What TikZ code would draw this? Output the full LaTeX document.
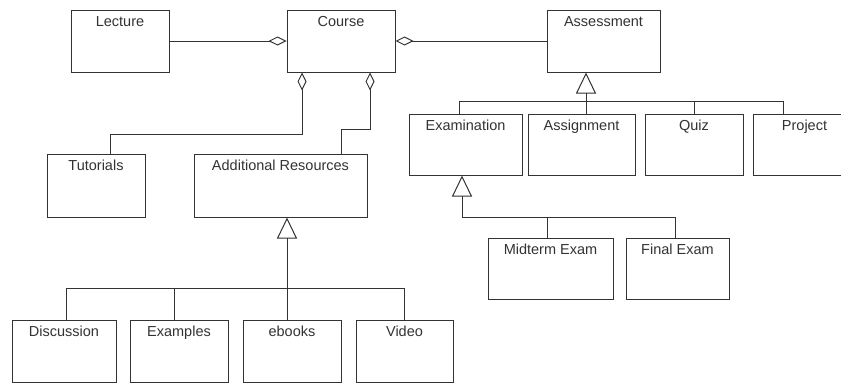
\documentclass[tikz,border=0pt]{standalone}
\usepackage{fontspec}
\setmainfont{Liberation Sans}
\usetikzlibrary{arrows.meta}
\definecolor{ink}{HTML}{333333}
\tikzset{
  umlbox/.style={draw=ink, line width=1pt, inner sep=0pt, fill=none},
  txt/.style={font=\fontsize{14.5}{17}\selectfont, text=ink, anchor=base, inner sep=0pt},
  conn/.style={draw=ink, line width=1pt},
  agg/.style={conn, {Diamond[open, length=18pt, width=9pt, line width=1pt]}-},
  gen/.style={conn, -{Triangle[open, length=21pt, width=20pt, line width=1pt]}}
}
\newcommand{\umlbox}[6]{%
  \node[umlbox, minimum width=#4pt-#2pt, minimum height=#5pt-#3pt] (#1) at ({(#2+#4)/2},{(#3+#5)/2}) {};
  \node[txt] (#1t) at ([yshift=-17pt]#1.north) {#6};
}
\begin{document}
\begin{tikzpicture}[x=1pt, y=-1pt]
\clip (0,0) rectangle (841,383);
\fill[white] (0,0) rectangle (841,383);

\umlbox{lect}{71}{10}{169}{72}{Lecture}
\umlbox{course}{287}{10}{395}{72}{Course}
\umlbox{assess}{547}{10}{660}{72}{Assessment}
\umlbox{tut}{47}{154}{145}{217}{Tutorials}
\umlbox{addres}{194}{154}{367}{217}{Additional Resources}
\umlbox{exam}{409}{114}{522}{175}{Examination}
\umlbox{assign}{528}{114}{635}{175}{Assignment}
\umlbox{quiz}{645}{114}{743}{175}{Quiz}
\umlbox{proj}{753}{114}{856}{175}{Project}
\umlbox{mid}{488}{238}{613}{299}{Midterm Exam}
\umlbox{final}{626}{238}{729}{299}{Final Exam}
\umlbox{disc}{12}{320}{116}{382}{Discussion}
\umlbox{examp}{130}{320}{228}{382}{Examples}
\umlbox{ebooks}{243}{320}{341}{382}{ebooks}
\umlbox{video}{356}{320}{453}{382}{Video}

% aggregations
\draw[agg] (course.west) -- (lect.east);
\draw[agg] (course.east) -- (assess.west);
\draw[agg] ([xshift=-39pt]course.south) |- (110,134) -- ([xshift=14pt]tut.north);
\draw[agg] ([xshift=29pt]course.south) |- (341,129) -- ([xshift=60.5pt]addres.north);

% generalization: assessment
\coordinate (busA) at (586,101);
\draw[gen] (busA) -- ([xshift=-17.5pt]assess.south);
\draw[conn] ([xshift=-6.5pt]exam.north) |- (busA);
\draw[conn] ([xshift=4.5pt]assign.north) -- (busA);
\draw[conn] (quiz.north) |- (busA);
\draw[conn] ([xshift=-21.5pt]proj.north) |- (busA);

% generalization: examination
\coordinate (busE) at (462,217);
\draw[gen] (busE) -- ([xshift=-3.5pt]exam.south);
\draw[conn] ([xshift=-3.5pt]mid.north) |- (busE);
\draw[conn] ([xshift=-2.5pt]final.north) |- (busE);

% generalization: additional resources
\coordinate (busR) at (287,288);
\draw[gen] (busR) -- ([xshift=6.5pt]addres.south);
\draw[conn] ([xshift=2pt]disc.north) |- (busR);
\draw[conn] ([xshift=-5pt]examp.north) |- (busR);
\draw[conn] ([xshift=-5pt]ebooks.north) -- (busR);
\draw[conn] (video.north) |- (busR);
\end{tikzpicture}
\end{document}
